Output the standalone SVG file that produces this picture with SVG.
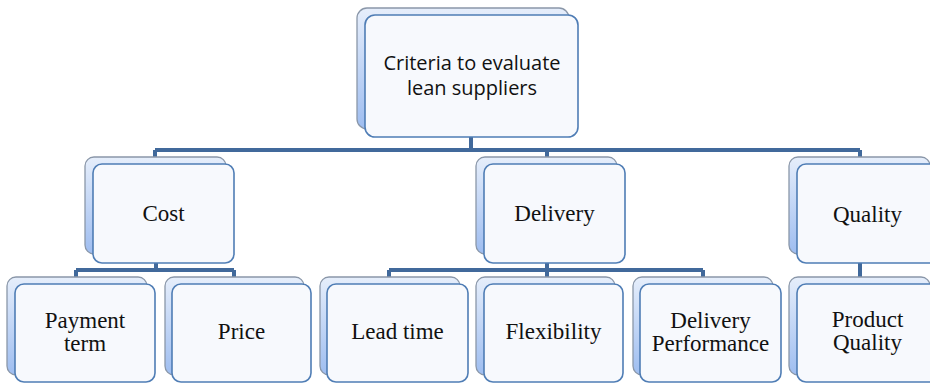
<svg xmlns="http://www.w3.org/2000/svg" width="930" height="383" viewBox="0 0 930 383">
  <defs>
    <linearGradient id="backFill" x1="0" y1="0" x2="0" y2="1">
      <stop offset="0" stop-color="#e6eefb"/>
      <stop offset="1" stop-color="#9ebdf0"/>
    </linearGradient>
    <style>
      .back { fill: url(#backFill); stroke: #8a97a9; stroke-width: 1.3; }
      .front { fill: #f7f9fd; stroke: #4f7db5; stroke-width: 1.6; }
      .conn { fill: none; stroke: #41699b; stroke-width: 4; stroke-linejoin: miter; }
      .sans { font-family: "Open Sans", "Liberation Sans", sans-serif; font-size: 20px; fill: #111; text-anchor: middle; }
      .serif { font-family: "Liberation Serif", "DejaVu Serif", serif; font-size: 23px; fill: #111; text-anchor: middle; }
    </style>
  </defs>
  <rect width="930" height="383" fill="#ffffff"/>

  <g id="connectors">
    <path class="conn" d="M471 137 V150 M155 150 H860 M155 150 V158 M547 150 V158 M860 150 V158"/>
    <path class="conn" d="M156 263 V270 M76 270 H234 M76 270 V278 M234 270 V278"/>
    <path class="conn" d="M547 263 V270 M389 270 H703 M389 270 V278 M547 270 V278 M703 270 V278"/>
    <path class="conn" d="M860 263 V278"/>
  </g>

  <g id="root">
    <rect class="back" x="357" y="8" width="212" height="121" rx="10"/>
    <rect class="front" x="365" y="15" width="213" height="122" rx="10"/>
    <text class="sans" x="472" y="70">Criteria to evaluate</text>
    <text class="sans" x="472" y="95">lean suppliers</text>
  </g>

  <g id="cost">
    <rect class="back" x="85" y="157" width="141" height="97" rx="9"/>
    <rect class="front" x="93" y="164" width="141" height="99" rx="9"/>
    <text class="serif" x="163.5" y="221">Cost</text>
  </g>

  <g id="delivery">
    <rect class="back" x="476" y="157" width="141" height="97" rx="9"/>
    <rect class="front" x="484" y="164" width="141" height="99" rx="9"/>
    <text class="serif" x="554.5" y="221">Delivery</text>
  </g>

  <g id="quality">
    <rect class="back" x="789" y="157" width="141" height="97" rx="9"/>
    <rect class="front" x="797" y="164" width="141" height="99" rx="9"/>
    <text class="serif" x="867.5" y="222">Quality</text>
  </g>

  <g id="payment-term">
    <rect class="back" x="7" y="277" width="140" height="98" rx="9"/>
    <rect class="front" x="15" y="284" width="140" height="98" rx="9"/>
    <text class="serif" x="85" y="328">Payment</text>
    <text class="serif" x="85" y="351">term</text>
  </g>

  <g id="price">
    <rect class="back" x="165" y="277" width="139" height="98" rx="9"/>
    <rect class="front" x="172" y="284" width="139" height="98" rx="9"/>
    <text class="serif" x="241.5" y="339">Price</text>
  </g>

  <g id="lead-time">
    <rect class="back" x="320" y="277" width="140" height="98" rx="9"/>
    <rect class="front" x="327" y="284" width="141" height="98" rx="9"/>
    <text class="serif" x="397.5" y="339">Lead time</text>
  </g>

  <g id="flexibility">
    <rect class="back" x="476" y="277" width="139" height="98" rx="9"/>
    <rect class="front" x="484" y="284" width="139" height="98" rx="9"/>
    <text class="serif" x="553.5" y="339">Flexibility</text>
  </g>

  <g id="delivery-performance">
    <rect class="back" x="633" y="277" width="140" height="98" rx="9"/>
    <rect class="front" x="640" y="284" width="141" height="98" rx="9"/>
    <text class="serif" x="710.5" y="328">Delivery</text>
    <text class="serif" x="710.5" y="351">Performance</text>
  </g>

  <g id="product-quality">
    <rect class="back" x="789" y="277" width="141" height="98" rx="9"/>
    <rect class="front" x="797" y="284" width="141" height="98" rx="9"/>
    <text class="serif" x="867.5" y="327">Product</text>
    <text class="serif" x="867.5" y="350">Quality</text>
  </g>
</svg>
